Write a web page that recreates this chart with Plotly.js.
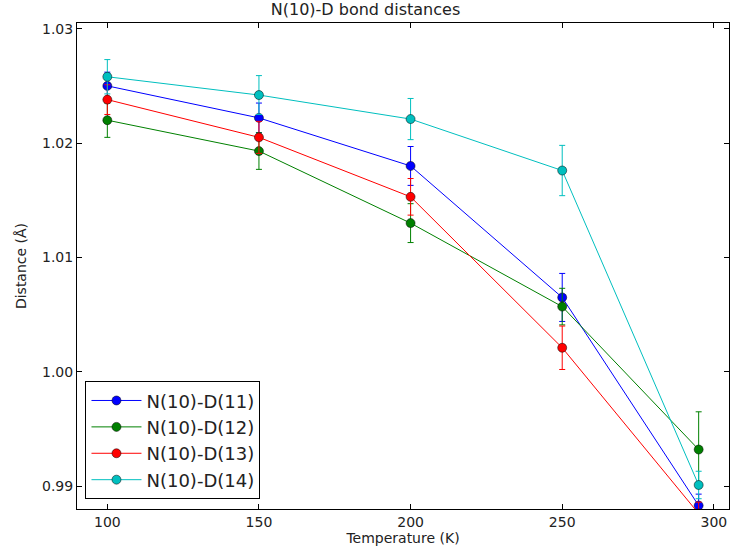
<!DOCTYPE html>
<html>
<head>
<meta charset="utf-8">
<script src="https://cdn.plot.ly/plotly-3.0.1.min.js"></script>
<style>html,body{margin:0;padding:0;background:#fff;}#chart{width:731px;height:547px;}</style>
</head>
<body>
<div id="chart"></div>
<script>
const temperatures = [100, 150, 200, 250, 295];
const seriesNames = ["N(10)-D(11)", "N(10)-D(12)", "N(10)-D(13)", "N(10)-D(14)"];
const d11 = [1.0250, 1.0222, 1.0180, 1.0065, 0.9883];
const d12 = [1.0220, 1.0193, 1.0130, 1.0057, 0.9932];
const d13 = [1.0238, 1.0205, 1.0153, 1.0021, 0.9876];
const d14 = [1.0258, 1.0242, 1.0221, 1.0176, 0.9901];
const e11 = [0.0012, 0.0013, 0.0017, 0.0021, 0.0010];
const e12 = [0.0015, 0.0016, 0.0017, 0.0016, 0.0033];
const e13 = [0.0013, 0.0014, 0.0016, 0.0019, 0.0010];
const e14 = [0.0015, 0.0017, 0.0018, 0.0022, 0.0012];
const yTicks = [0.99, 1.00, 1.01, 1.02, 1.03];
const xTicks = [100, 150, 200, 250, 300];

const values = [d11, d12, d13, d14];
const errors = [e11, e12, e13, e14];
const colors = ["#0000ff", "#008000", "#ff0000", "#00bfbf"];

const traces = values.map((v, i) => ({
  x: temperatures, y: v, name: seriesNames[i], type: "scatter", mode: "lines+markers",
  line: {color: colors[i], width: 1},
  marker: {color: colors[i], size: 9, line: {color: "#000", width: 0.5}},
  error_y: {type: "data", array: errors[i], visible: true, color: colors[i], thickness: 1, width: 3}
}));

const font = "DejaVu Sans";
const axisCommon = {
  showline: true, linecolor: "#000", linewidth: 1, mirror: "allticks",
  ticks: "inside", ticklen: 5, tickcolor: "#000", showgrid: false, zeroline: false,
  tickfont: {family: font, size: 14, color: "#222"}
};

const layout = {
  width: 731, height: 547,
  margin: {l: 77, r: 2, t: 23, b: 38},
  paper_bgcolor: "#fff", plot_bgcolor: "#fff",
  title: {text: "N(10)-D bond distances", font: {family: font, size: 16, color: "#222"}, x: 0.5, xanchor: "center", y: 0.993, yanchor: "top"},
  xaxis: Object.assign({}, axisCommon, {range: [90, 305], tickvals: xTicks, ticktext: xTicks.map(String),
    title: {text: "Temperature (K)", font: {family: font, size: 14, color: "#222"}, standoff: 2}}),
  yaxis: Object.assign({}, axisCommon, {range: [0.988, 1.0305], tickvals: yTicks, ticktext: yTicks.map(v => v.toFixed(2)),
    title: {text: "Distance (Å)", font: {family: font, size: 14, color: "#222"}, standoff: 12}}),
  showlegend: true,
  legend: {x: 0.013, y: 0.02, xanchor: "left", yanchor: "bottom", bgcolor: "#fff", bordercolor: "#000", borderwidth: 1,
    font: {family: font, size: 18, color: "#222"}, tracegroupgap: 0, itemwidth: 50}
};

Plotly.newPlot("chart", traces, layout, {displayModeBar: false});
</script>
</body>
</html>
